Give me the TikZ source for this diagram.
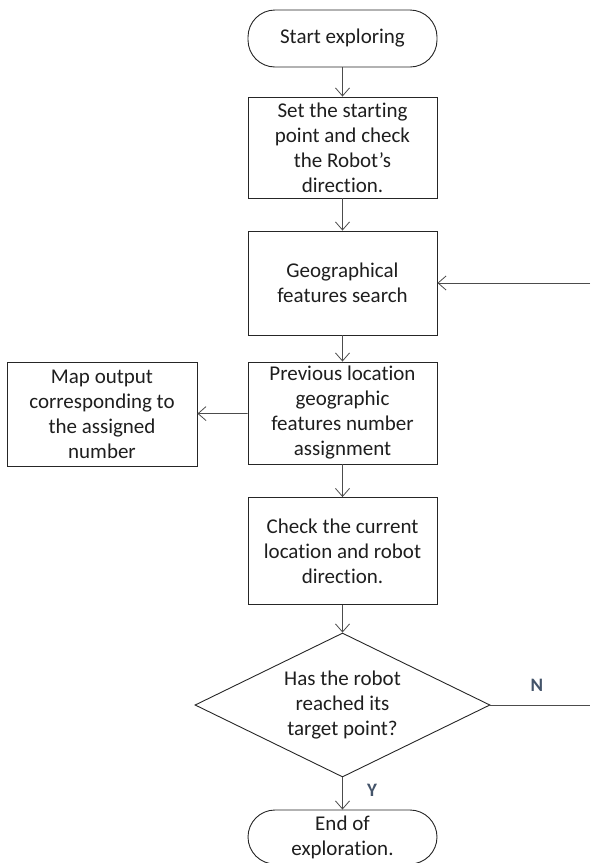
\documentclass[tikz,border=0pt]{standalone}
\usepackage{fontspec}
\setmainfont{Carlito}[Ligatures=NoCommon]
\usetikzlibrary{arrows.meta,shapes.geometric}
\definecolor{txt}{HTML}{1E1E1E}
\definecolor{lab}{HTML}{44546A}
\begin{document}
\begin{tikzpicture}[x=1pt,y=-1pt,
  every node/.style={font=\fontsize{21}{25}\selectfont, text=txt, align=center},
  proc/.style={draw=black!85, line width=0.9pt, rectangle, minimum width=189pt, inner sep=0pt},
  term/.style={draw=black!85, line width=0.9pt, rectangle, rounded corners=27pt, minimum width=189pt, inner sep=0pt},
  dec/.style={draw=black!85, line width=0.9pt, diamond, minimum width=295pt, minimum height=144pt, inner sep=0pt},
  conn/.style={draw=black!70, line width=0.8pt},
  arr/.style={conn, -{Straight Barb[length=8pt,width=14pt,line width=0.8pt]}},
  yn/.style={font=\fontsize{19}{22}\selectfont\bfseries, text=lab}
]
\useasboundingbox (0,0) rectangle (590,863);
\node[term, minimum height=57pt] (start) at (342.5,38.5) {Start exploring};
\node[proc, minimum height=101pt] (set) at (342.5,147.5) {Set the starting\\point and check\\the Robot{\char"0027}s\\direction.};
\node[proc, minimum height=104pt] (geo) at (342.5,283) {Geographical\\features search};
\node[proc, minimum height=102pt] (prev) at (342.5,413) {Previous location\\geographic\\features number\\assignment};
\node[proc, minimum height=104pt, minimum width=190pt] (map) at (102,414) {Map output\\corresponding to\\the assigned\\number};
\node[proc, minimum height=107pt] (check) at (342.5,551) {Check the current\\location and robot\\direction.};
\node[dec] (dec) at (342.5,705) {};
\node (dectext) at (dec.center) {Has the robot\\reached its\\target point?};
\node[term, minimum height=54pt] (end) at (342.5,837) {End of\\exploration.};
\node[yn] (n) at (537,685) {N};
\node[yn] (y) at (372,790) {Y};
\coordinate (fb) at (590,283);
\coordinate (nr) at (590,705);
\draw[arr] (start) -- (set);
\draw[arr] (set) -- (geo);
\draw[arr] (geo) -- (prev);
\draw[arr] (prev) -- (map);
\draw[arr] (prev) -- (check);
\draw[arr] (check) -- (dec);
\draw[arr] (dec) -- (end);
\draw[arr] (fb) -- (geo);
\draw[conn] (dec.east) -- (nr);
\end{tikzpicture}
\end{document}
